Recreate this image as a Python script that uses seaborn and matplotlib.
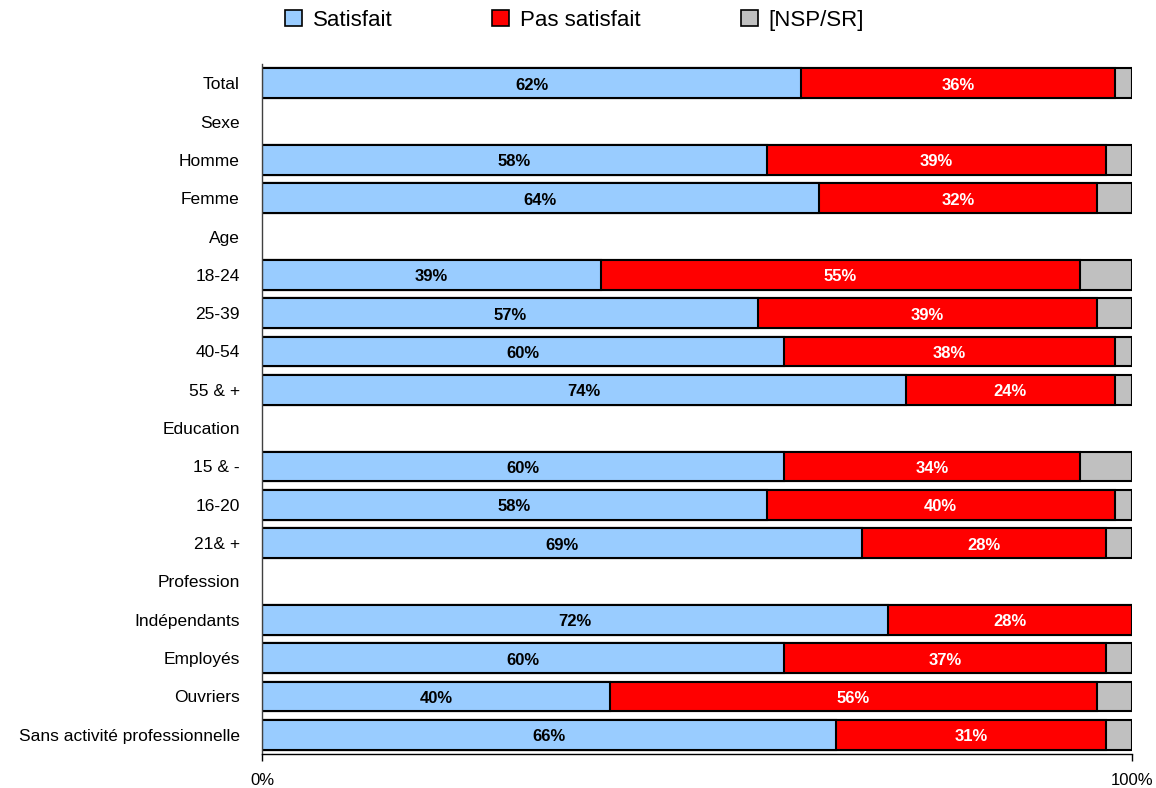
import numpy as np
import pandas as pd
import matplotlib
matplotlib.use("Agg")
import matplotlib.pyplot as plt
from matplotlib.patches import Patch
import seaborn as sns

# Row labels (section headers have no bars)
labels = ["Total", "Sexe", "Homme", "Femme", "Age", "18-24", "25-39", "40-54",
          "55 & +", "Education", "15 & -", "16-20", "21& +", "Profession",
          "Indépendants", "Employés", "Ouvriers", "Sans activité professionnelle"]

satisfait = [62, np.nan, 58, 64, np.nan, 39, 57, 60, 74, np.nan, 60, 58, 69,
             np.nan, 72, 60, 40, 66]
pas_satisfait = [36, np.nan, 39, 32, np.nan, 55, 39, 38, 24, np.nan, 34, 40, 28,
                 np.nan, 28, 37, 56, 31]
nsp = [2, np.nan, 3, 4, np.nan, 6, 4, 2, 2, np.nan, 6, 2, 3,
       np.nan, 0, 3, 4, 3]

series_names = ["Satisfait", "Pas satisfait", "[NSP/SR]"]
colors = ["#99CCFF", "#FF0000", "#C0C0C0"]

sns.set_theme(style="white")
plt.rcParams['font.family'] = ['Liberation Sans', 'DejaVu Sans']
plt.rcParams['text.color'] = 'black'
plt.rcParams['xtick.color'] = 'black'
plt.rcParams['ytick.color'] = 'black'

df = pd.DataFrame({"label": labels, "s": satisfait, "p": pas_satisfait, "n": nsp})
df["cum_s"] = df["s"]
df["cum_p"] = df["s"] + df["p"]
df["cum_n"] = df["s"] + df["p"] + df["n"]

fig = plt.figure(figsize=(11.56, 7.88), dpi=100)
ax = fig.add_axes([262 / 1156, 34 / 788, 870 / 1156, 690 / 788])

# stacked bars drawn as overlapping cumulative bars, widest first
for col, color in zip(["cum_n", "cum_p", "cum_s"], colors[::-1]):
    sns.barplot(data=df, y="label", x=col, order=labels, orient="h",
                color=color, edgecolor="black", linewidth=1.5, width=0.78,
                saturation=1, errorbar=None, ax=ax)

# value labels
for i, row in df.iterrows():
    if np.isnan(row["s"]):
        continue
    ax.text(row["s"] / 2, i + 0.05, f"{row['s']:.0f}%", ha="center", va="center",
            fontsize=12, fontweight="bold", color="black")
    ax.text(row["s"] + row["p"] / 2, i + 0.05, f"{row['p']:.0f}%", ha="center",
            va="center", fontsize=12, fontweight="bold", color="white")

ax.set_xlim(0, 100)
ax.set_ylim(17.5, -0.5)
ax.set_xticks([0, 100])
ax.set_xticklabels(["0%", "100%"], fontsize=12)
ax.set_xlabel("")
ax.set_ylabel("")
ax.tick_params(axis="y", length=0, pad=16, labelsize=12.5, colors="black")
ax.tick_params(axis="x", length=5, width=1, direction="out", pad=9, bottom=True,
               colors="black")
for side in ["top", "right"]:
    ax.spines[side].set_visible(False)
ax.spines["left"].set_color("#404040")
ax.spines["left"].set_linewidth(1)
ax.spines["bottom"].set_color("black")
ax.spines["bottom"].set_linewidth(1)
ax.grid(False)

handles = [Patch(facecolor=c, edgecolor="black", linewidth=1.2) for c in colors]
fig.legend(handles, series_names, loc="center", bbox_to_anchor=(0.497, 0.974),
           ncol=3, frameon=False, fontsize=16, handlelength=0.75, handleheight=0.75,
           handletextpad=0.5, columnspacing=4.5)

fig.savefig("out.png", dpi=100)
